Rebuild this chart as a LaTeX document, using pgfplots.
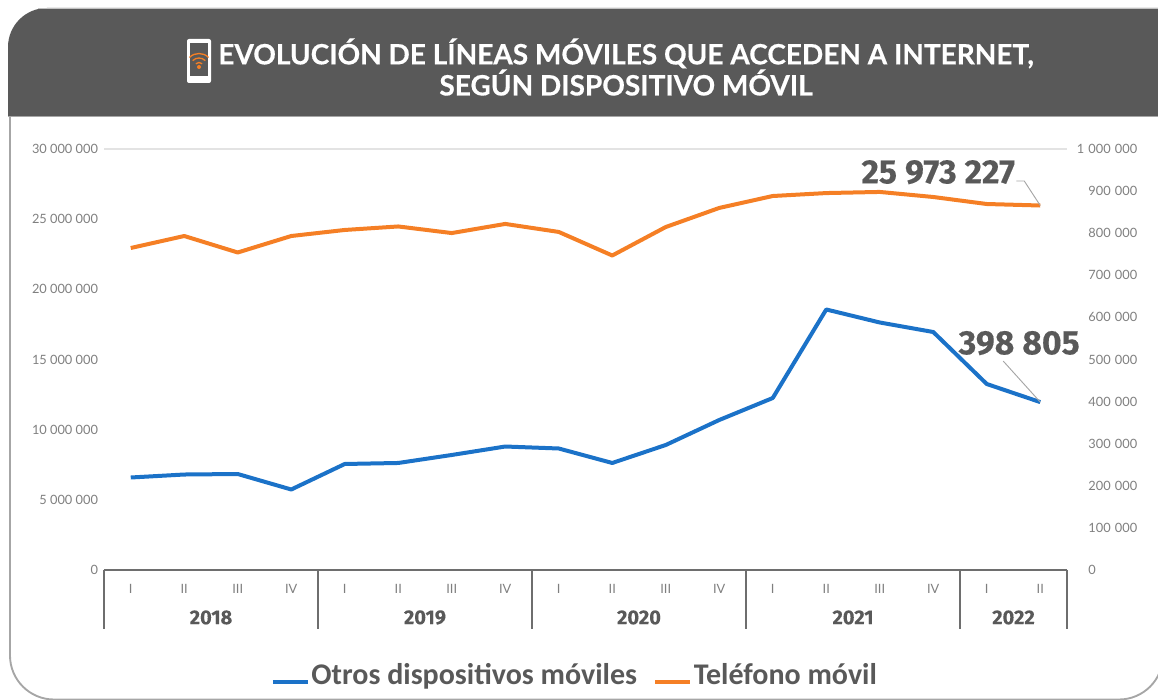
\documentclass[border=0pt]{standalone}
\usepackage{pgfplots}
\pgfplotsset{compat=1.18}
\usepackage{fontspec}
\setmainfont{Lato}
\newfontfamily\carlito{Carlito}
\newfontfamily\fira{Fira Sans}
\definecolor{hdr}{HTML}{595959}
\definecolor{tick}{HTML}{7F7F7F}
\definecolor{sep}{HTML}{6E6E6E}
\definecolor{grid}{HTML}{E3E3E3}
\definecolor{bord}{HTML}{A6A6A6}
\definecolor{cblue}{HTML}{1B72C8}
\definecolor{corange}{HTML}{F57F25}
\pgfplotstableread{
x tel
0 22945000
1 23800000
2 22625000
3 23800000
4 24230000
5 24480000
6 24010000
7 24660000
8 24090000
9 22410000
10 24440000
11 25800000
12 26650000
13 26860000
14 26940000
15 26580000
16 26080000
17 25973227
}\teltable
\pgfplotstableread{
x otros
0 219700
1 226800
2 228000
3 191200
4 251800
5 254200
6 273200
7 293300
8 288600
9 254200
10 296900
11 356300
12 408500
13 618800
14 587900
15 565300
16 441800
17 398805
}\otrostable
\pgfplotsset{
  base/.style={
    scale only axis, width=722.25pt, height=315.75pt,
    at={(78pt,97.5pt)}, anchor=south west,
    xmin=-0.5, xmax=17.5, ymin=0, clip=false,
    major tick length=0pt, axis line style={draw=none},
    scaled y ticks=false,
    tick label style={font=\fontsize{9.6pt}{11pt}\selectfont, text=tick},
  },
}
\tikzset{
  yearlbl/.style={text=hdr,anchor=center,font=\fira\bfseries\fontsize{15pt}{17pt}\selectfont\addfontfeatures{FakeBold=0.2}},
  numlbl/.style={text=hdr,anchor=center,font=\fira\bfseries\fontsize{25.3pt}{28pt}\selectfont\addfontfeatures{FakeBold=0.3}},
}
\begin{document}
\begin{tikzpicture}
\useasboundingbox (0pt,0pt) rectangle (868.5pt,525pt);
\begin{scope}[x=0.75pt,y=-0.75pt,shift={(0pt,525pt)}]
% card
\clip (0,0) rectangle (1158,700);
\draw[bord,line width=1.4pt,rounded corners=33pt] (10,60) -- (10,699.5) -- (1163,699.5) -- (1163,60);
\fill[hdr] (8,116) -- (8,47) arc[start angle=180,end angle=90,radius=29.25pt] -- (1158,8) -- (1158,116) -- cycle;
\draw[bord,line width=0.6pt] (8,116.5) -- (1158,116.5);
\draw[bord!70,line width=0.5pt] (38,8) -- (1158,8);
% phone icon
\fill[white,rounded corners=1.5pt] (187,39) rectangle (211,83);
\fill[hdr] (190,43.5) rectangle (208,76);
\fill[white] (199,79) circle[radius=1.4pt];
\fill[corange] (199,67) circle[radius=1.5pt];
\foreach \r in {4.5,9,13.5}
  \draw[corange,line width=1pt] (199,67) ++(45:\r*0.75pt) arc[start angle=45,end angle=135,radius=\r*0.75pt];
% title
\node[white,font=\bfseries\fontsize{21pt}{23.3pt}\selectfont\addfontfeatures{FakeBold=0.5},anchor=center,align=center] at (626,67) {EVOLUCIÓN DE LÍNEAS MÓVILES QUE ACCEDEN A INTERNET,\\ SEGÚN DISPOSITIVO MÓVIL};
\end{scope}
% left axis: telefono movil, multi-level category axis
\begin{axis}[base,
    ymax=30000000, ytick={0,5000000,...,30000000},
    yticklabels={0,5 000 000,10 000 000,15 000 000,20 000 000,25 000 000,30 000 000},
    yticklabel style={xshift=-1pt},
    xtick={0,...,17},
    xticklabels={I,II,III,IV,I,II,III,IV,I,II,III,IV,I,II,III,IV,I,II},
    xticklabel style={yshift=-7.5pt},
  ]
  \draw[grid,line width=0.8pt] (axis cs:-0.5,30000000) -- (axis cs:17.5,30000000);
  \draw[sep,line width=1.1pt] (axis cs:-0.5,0) -- (axis cs:17.5,0);
  \pgfplotsinvokeforeach{-0.5,3.5,7.5,11.5,15.5,17.5}{
    \draw[sep,line width=1.1pt] (axis cs:#1,0) -- ++(0pt,-44.25pt);
  }
  \node[yearlbl] at ([yshift=-35.6pt]axis cs:1.5,0) {2018};
  \node[yearlbl] at ([yshift=-35.6pt]axis cs:5.5,0) {2019};
  \node[yearlbl] at ([yshift=-35.6pt]axis cs:9.5,0) {2020};
  \node[yearlbl] at ([yshift=-35.6pt]axis cs:13.5,0) {2021};
  \node[yearlbl] at ([yshift=-35.6pt]axis cs:16.5,0) {2022};
  \addplot[corange,line width=3pt,line join=round] table[x=x,y=tel] {\teltable};
  \draw[bord,line width=0.7pt] (axis cs:17,25973227) -- ++(-12pt,18.4pt) -- ++(-6pt,0pt);
  \node[numlbl] at ([xshift=-76.5pt,yshift=25pt]axis cs:17,25973227) {25 973 227};
\end{axis}
% right axis: otros dispositivos
\begin{axis}[base,
    axis y line*=right, axis x line=none,
    ymax=1000000, ytick={0,100000,...,1000000},
    yticklabels={0\phantom{00 000},100 000,200 000,300 000,400 000,500 000,600 000,700 000,800 000,900 000,1 000 000},
    yticklabel style={anchor=west, text width=50pt, align=right, inner sep=0pt, xshift=2.5pt},
    legend style={at={(0.4886,-0.2495)},anchor=center,draw=none,fill=none,inner sep=0pt,
      nodes={inner xsep=1pt},
      font=\carlito\bfseries\fontsize{22.5pt}{24pt}\selectfont,text=hdr,
      /tikz/every even column/.append style={column sep=11pt}},
    legend columns=2,
    legend image code/.code={\draw[#1] (0pt,-5pt) -- (26.5pt,-5pt);},
  ]
  \addplot[cblue,line width=3pt,line join=round] table[x=x,y=otros] {\otrostable};
  \addlegendentry{Otros dispositivos móviles}
  \addlegendimage{corange,line width=3pt}
  \addlegendentry{Teléfono móvil}
  \draw[bord,line width=0.7pt] (axis cs:17,398805) -- ++(-27.75pt,30.75pt);
  \node[numlbl] at ([xshift=-15.75pt,yshift=44.25pt]axis cs:17,398805) {398 805};
\end{axis}
\end{tikzpicture}
\end{document}
